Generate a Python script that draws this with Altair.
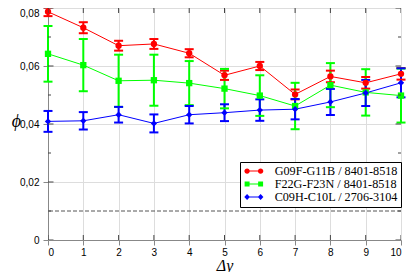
import altair as alt
import pandas as pd

# ---------------- data ----------------
x_vals = [0, 1, 2, 3, 4, 5, 6, 7, 8, 9, 10]
series_names = ["G09F-G11B / 8401-8518", "F22G-F23N / 8401-8518", "C09H-C10L / 2706-3104"]
series_colors = ["#ff0000", "#00ff00", "#0000ff"]

red_vals = [0.0787, 0.0732, 0.0670, 0.0676, 0.0644, 0.0568, 0.0600, 0.0502, 0.0564, 0.0542, 0.0573]
red_errs = [0.0015, 0.0019, 0.0017, 0.0017, 0.0014, 0.0016, 0.0014, 0.0017, 0.0020, 0.0020, 0.0020]
green_vals = [0.0642, 0.0603, 0.0549, 0.0551, 0.0541, 0.0522, 0.0498, 0.0462, 0.0534, 0.0509, 0.0498]
green_errs = [0.0096, 0.0090, 0.0090, 0.0088, 0.0076, 0.0068, 0.0070, 0.0080, 0.0076, 0.0080, 0.0093]
blue_vals = [0.0409, 0.0411, 0.0432, 0.0402, 0.0432, 0.0439, 0.0448, 0.0451, 0.0476, 0.0507, 0.0542]
blue_errs = [0.0036, 0.0030, 0.0027, 0.0031, 0.0030, 0.0029, 0.0037, 0.0035, 0.0045, 0.0045, 0.0050]

reference_level = [0.01]
x_ticks = [0, 1, 2, 3, 4, 5, 6, 7, 8, 9, 10]
y_ticks_major = [0, 0.02, 0.04, 0.06, 0.08]
y_ticks_minor = [0.01, 0.03, 0.05, 0.07]

# ---------------- tables ----------------
rows = []
for name, vals, errs in zip(series_names,
                            [red_vals, green_vals, blue_vals],
                            [red_errs, green_errs, blue_errs]):
    for xi, v, e in zip(x_vals, vals, errs):
        rows.append({"series": name, "x": xi, "phi": v, "lo": v - e, "hi": v + e})
df = pd.DataFrame(rows)

FONT = "Liberation Serif, Times New Roman, DejaVu Serif, serif"
TICK_COLOR = "#444444"
W, H = 353, 232

xs = alt.Scale(domain=[0, 10], nice=False, zero=False)
ys = alt.Scale(domain=[0, 0.08], nice=False, zero=False)

x_axis = alt.Axis(
    values=x_ticks, format="d", title="Δy",
    titleX=W / 2, titleY=30, titleAlign="center", titleBaseline="alphabetic",
    titleFont=FONT, titleFontStyle="italic", titleFontSize=16, titleFontWeight="normal",
    labelPadding=2,
)
y_axis = alt.Axis(
    values=y_ticks_major, title="ϕ",
    labelExpr="datum.value == 0 ? '0' : replace(format(datum.value, '.2f'), '.', ',')",
    labelBaseline={"condition": {"test": "datum.value >= 0.0799", "value": "top"}, "value": "middle"},
    titleAngle=0, titleX=-32, titleY=113, titleAlign="center", titleBaseline="middle",
    titleFont=FONT, titleFontStyle="italic", titleFontSize=18, titleFontWeight="normal",
    labelPadding=4,
)

color_enc = alt.Color("series:N", scale=alt.Scale(domain=series_names, range=series_colors), legend=None)
shape_enc = alt.Shape("series:N", scale=alt.Scale(domain=series_names, range=["circle", "square", "diamond"]), legend=None)

base = alt.Chart(df)

ref_line = alt.Chart(pd.DataFrame({"ref": reference_level})).mark_rule(
    strokeDash=[4, 2], color="#555555", strokeWidth=1
).encode(y=alt.Y("ref:Q", scale=ys, axis=y_axis))

lines = base.mark_line(strokeWidth=1).encode(
    x=alt.X("x:Q", scale=xs, axis=x_axis),
    y=alt.Y("phi:Q", scale=ys, axis=y_axis),
    color=color_enc,
)

err_rules = base.mark_rule(strokeWidth=2).encode(
    x=alt.X("x:Q", scale=xs, axis=x_axis),
    y=alt.Y("lo:Q", scale=ys, axis=y_axis),
    y2="hi:Q",
    color=color_enc,
)
cap_lo = base.mark_tick(orient="horizontal", size=9, thickness=2, opacity=1).encode(
    x=alt.X("x:Q", scale=xs, axis=x_axis),
    y=alt.Y("lo:Q", scale=ys, axis=y_axis),
    color=color_enc,
)
cap_hi = base.mark_tick(orient="horizontal", size=9, thickness=2, opacity=1).encode(
    x=alt.X("x:Q", scale=xs, axis=x_axis),
    y=alt.Y("hi:Q", scale=ys, axis=y_axis),
    color=color_enc,
)

points = base.mark_point(filled=True, opacity=1, size=40, strokeWidth=0).encode(
    x=alt.X("x:Q", scale=xs, axis=x_axis),
    y=alt.Y("phi:Q", scale=ys, axis=y_axis),
    color=color_enc,
    shape=shape_enc,
)

# inward ticks (clipped to the frame)
xt = pd.DataFrame({"t": x_ticks})
ytM = pd.DataFrame({"t": y_ticks_major})
ytm = pd.DataFrame({"t": y_ticks_minor})


def xtick(y0):
    return alt.Chart(xt).mark_tick(orient="vertical", size=10, thickness=1, clip=True,
                                   color=TICK_COLOR, opacity=1).encode(
        x=alt.X("t:Q", scale=xs, axis=x_axis),
        y=alt.YDatum(y0, scale=ys, axis=y_axis),
    )


def ytick(tbl, x0, size):
    return alt.Chart(tbl).mark_tick(orient="horizontal", size=size, thickness=1, clip=True,
                                    color=TICK_COLOR, opacity=1).encode(
        x=alt.XDatum(x0, scale=xs, axis=x_axis),
        y=alt.Y("t:Q", scale=ys, axis=y_axis),
    )


ticks = [xtick(0), xtick(0.08),
         ytick(ytM, 0, 11), ytick(ytM, 10, 11),
         ytick(ytm, 0, 6), ytick(ytm, 10, 6)]

# legend layer (invisible marks, legend only)
def circ(x0, r):
    return f"M{x0 - r},0A{r},{r} 0 1,1 {x0 + r},0A{r},{r} 0 1,1 {x0 - r},0Z"


def sq(x0, h):
    return f"M{x0 - h},{-h}H{x0 + h}V{h}H{x0 - h}Z"


def dia(x0, w, v):
    return f"M{x0},{-v}L{x0 + w},0L{x0},{v}L{x0 - w},0Z"


bar = "M-1.69,-0.13H1.69V0.13H-1.69Z"
legend_paths = [
    bar + circ(-1.69, 0.68) + circ(1.69, 0.68),
    bar + sq(-1.69, 0.62) + sq(1.69, 0.62),
    bar + dia(-1.69, 0.7, 0.75) + dia(1.69, 0.7, 0.75),
]

leg = alt.Legend(
    title=None, orient="none", legendX=192, legendY=154, padding=3,
    symbolSize=64, symbolOffset=4.75, labelOffset=14.7, rowPadding=0,
    strokeColor="black", fillColor="white", cornerRadius=0,
    labelFont=FONT, labelFontSize=12.2, labelColor="black", labelLimit=0,
    symbolStrokeWidth=0, symbolOpacity=1,
)

legend_layer = alt.Chart(pd.DataFrame({"series": series_names})).mark_point(
    filled=True, opacity=1, clip=True
).encode(
    x=alt.XDatum(-50, scale=xs, axis=x_axis),
    y=alt.YDatum(-1, scale=ys, axis=y_axis),
    color=alt.Color("series:N", scale=alt.Scale(domain=series_names, range=series_colors), legend=leg),
    shape=alt.Shape("series:N", scale=alt.Scale(domain=series_names, range=legend_paths), legend=leg),
)

chart = alt.layer(
    ref_line, lines, err_rules, cap_lo, cap_hi, points, *ticks, legend_layer
).resolve_scale(
    color="independent", shape="independent"
).properties(
    width=W, height=H,
    autosize=alt.AutoSizeParams(type="none"),
    padding={"left": 40, "top": 0, "right": 6, "bottom": 32},
).configure_view(
    stroke="black", strokeWidth=1
).configure_axis(
    domain=False, ticks=False, grid=False,
    labelFont=FONT, labelFontSize=12, labelColor="black",
    titleColor="black",
).configure(background="white")

chart.save("out.html", embed_options={"renderer": "svg", "actions": False})
